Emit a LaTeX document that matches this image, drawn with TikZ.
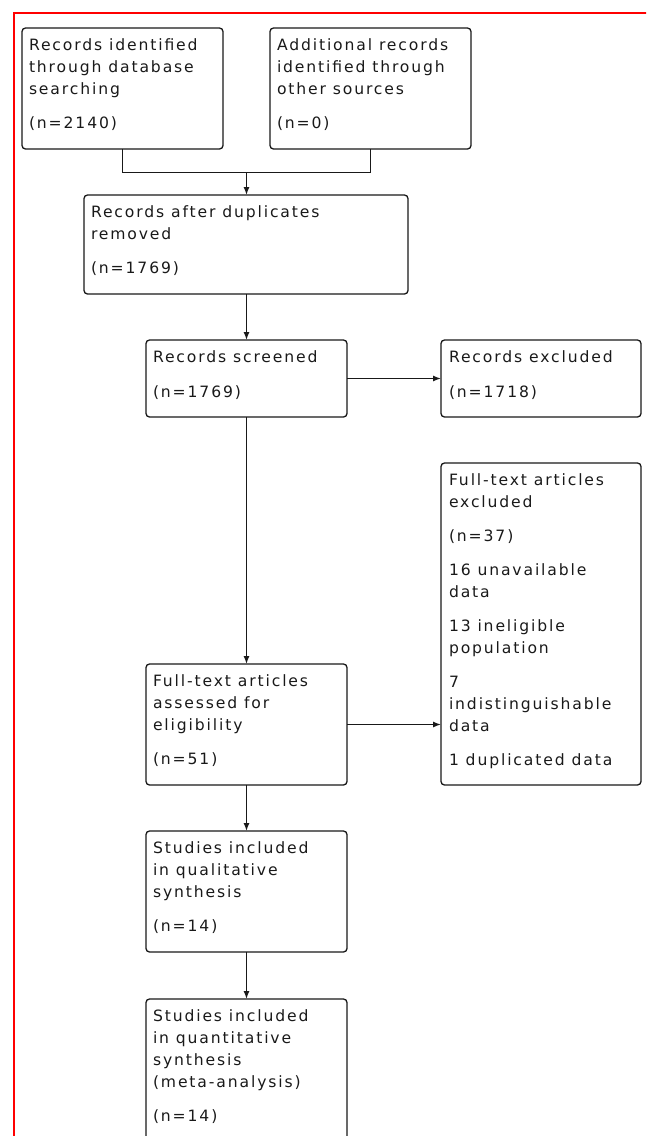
\documentclass[tikz,border=0pt]{standalone}
\usepackage{fontspec}
\setmainfont{DejaVu Sans}[LetterSpace=12]
\usetikzlibrary{arrows.meta}
\begin{document}
\begin{tikzpicture}[x=1pt,y=-1pt,
  box/.style={draw=black!90, line width=1.3pt, rounded corners=3.5pt, anchor=north west, inner sep=0pt, outer sep=0pt},
  txt/.style={anchor=north west, inner sep=0pt, outer sep=0pt, align=left, font=\fontsize{15.6}{22}\selectfont, text=black!90},
  conn/.style={draw=black!90, line width=1.2pt},
  arr/.style={conn, -{Latex[length=8pt,width=6pt]}}]
\useasboundingbox (0,0) rectangle (646,1136);
\clip (0,0) rectangle (646,1136);
\draw[red, line width=2pt] (14,1140) -- (14,13) -- (650,13);

\node[box, minimum width=201pt, minimum height=121pt] (b1) at (22,28) {};
\node[box, minimum width=201pt, minimum height=121pt] (b2) at (270,28) {};
\node[box, minimum width=324pt, minimum height=99pt] (b3) at (84,195) {};
\node[box, minimum width=201pt, minimum height=77pt] (b4) at (146,340) {};
\node[box, minimum width=200pt, minimum height=77pt] (b5) at (441,340) {};
\node[box, minimum width=200pt, minimum height=322pt] (b6) at (441,463) {};
\node[box, minimum width=201pt, minimum height=121pt] (b7) at (146,664) {};
\node[box, minimum width=201pt, minimum height=121pt] (b8) at (146,831) {};
\node[box, minimum width=201pt, minimum height=170pt] (b9) at (146,999) {};

\node[txt] (b1t) at (29,39) {Records identified\\through database\\searching\\[12pt](n=2140)};
\node[txt] (b2t) at (277,39) {Additional records\\identified through\\other sources\\[12pt](n=0)};
\node[txt] (b3t) at (91,206) {Records after duplicates\\removed\\[12pt](n=1769)};
\node[txt] (b4t) at (153,351) {Records screened\\[13pt](n=1769)};
\node[txt] (b5t) at (449,351) {Records excluded\\[13pt](n=1718)};
\node[txt] (b6t) at (449,474) {Full-text articles\\excluded\\[12pt](n=37)\\[12pt]16 unavailable\\data\\[12pt]13 ineligible\\population\\[12pt]7\\indistinguishable\\data\\[12pt]1 duplicated data};
\node[txt] (b7t) at (153,675) {Full-text articles\\assessed for\\eligibility\\[12pt](n=51)};
\node[txt] (b8t) at (153,842) {Studies included\\in qualitative\\synthesis\\[12pt](n=14)};
\node[txt] (b9t) at (153,1010) {Studies included\\in quantitative\\synthesis\\(meta-analysis)\\[12pt](n=14)};

\coordinate (j) at (246.5,172.5);
\draw[conn] (b1.south) |- (j) -| (b2.south);
\draw[arr] (j) -- (j |- b3.north);
\draw[arr] (b4.north |- b3.south) -- (b4.north);
\draw[arr] (b4.east) -- (b5.west);
\draw[arr] (b4.south) -- (b7.north);
\draw[arr] (b7.east) -- (b7.east -| b6.west);
\draw[arr] (b7.south) -- (b8.north);
\draw[arr] (b8.south) -- (b9.north);
\end{tikzpicture}
\end{document}
